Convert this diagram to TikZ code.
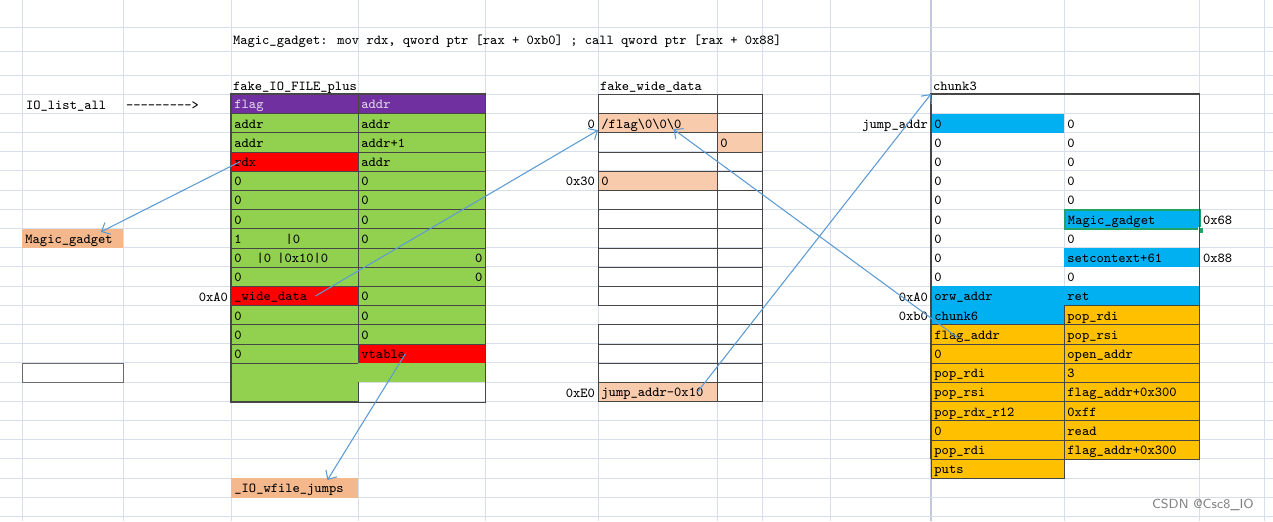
\documentclass[tikz,border=0pt]{standalone}
\usepackage{xcolor}
\usepackage{tikz}
\usetikzlibrary{positioning,arrows.meta}

\definecolor{gridc}{RGB}{216,222,236}
\definecolor{gridd}{RGB}{190,200,222}
\definecolor{bd}{RGB}{70,70,70}
\definecolor{purp}{RGB}{112,48,160}
\definecolor{pale}{RGB}{222,212,234}
\definecolor{grn}{RGB}{146,208,80}
\definecolor{redc}{RGB}{255,0,0}
\definecolor{pch}{RGB}{248,203,173}
\definecolor{org}{RGB}{244,184,140}
\definecolor{blu}{RGB}{0,176,240}
\definecolor{gold}{RGB}{255,192,0}
\definecolor{selg}{RGB}{33,163,102}
\definecolor{arw}{RGB}{91,155,213}

\begin{document}
\begin{tikzpicture}[
		x=0.02cm,y=-0.02cm,
		font=\fontsize{7.8}{9}\selectfont\ttfamily,
		cell/.style={draw=bd,line width=0.5pt,anchor=north west,minimum height=0.384cm,inner xsep=0.06cm,inner ysep=0pt,text height=6.4pt,text depth=0.8pt,align=left},
		ia/.style={cell,text width=2.42cm},
		wa/.style={cell,text width=2.26cm},
		wb/.style={cell,text width=0.78cm},
		ca/.style={cell,text width=2.54cm},
		cb/.style={cell,text width=2.58cm},
		la/.style={cell,text width=1.90cm},
		lbl/.style={inner sep=1pt,text height=6.4pt,text depth=0.8pt},
		tbl/.style={draw=bd,line width=0.6pt},
		ptr/.style={-{Straight Barb[length=1.4mm,width=2.6mm]},draw=arw,line width=0.6pt}
		]
		\fill[white] (0,0) rectangle (1273,521);
		\useasboundingbox (0,0) rectangle (1273,521);

		% sheet grid
		\foreach \gx in {22,123,231,358,485,598,717,762,830,1064,1199,1264}
			\draw[gridc,line width=0.5pt] (\gx,0) -- (\gx,521);
		\draw[gridd,line width=0.8pt] (931,0) -- (931,521);
		\foreach \gy in {27,51,75}
			\draw[gridc,line width=0.5pt] (0,\gy) -- (1273,\gy);
		\foreach \k in {0,...,22}
			\draw[gridc,line width=0.5pt] (0,{94+19.2*\k}) -- (1273,{94+19.2*\k});

		\node[lbl,anchor=west] (ttl) at (231,40) {Magic\_gadget: mov rdx, qword ptr [rax + 0xb0] ; call qword ptr [rax + 0x88]};
		\node[lbl,anchor=west] (iola) at (24,104.2) {IO\_list\_all};
		\node[lbl,anchor=west] (dsh) at (124,104.2) {-{}-{}-{}-{}-{}-{}-{}-{}->};
		\node[la,fill=org,draw=none] (mg) at (22,228.4) {Magic\_gadget};
		\node[la,draw=bd!80] (box) at (22,362.8) {};

		% fake_IO_FILE_plus
		\node[lbl,anchor=west] (h1) at (231,85.5) {fake\_IO\_FILE\_plus};
		\node[ia,fill=purp,text=pale] (fa1) at (231,94) {flag};
		\node[ia,fill=purp,text=pale] (fb1) at (358,94) {addr};
		\node[ia,fill=grn] (fa2) at (231,113.2) {addr};
		\node[ia,fill=grn] (fb2) at (358,113.2) {addr};
		\node[ia,fill=grn] (fa3) at (231,132.4) {addr};
		\node[ia,fill=grn] (fb3) at (358,132.4) {addr+1};
		\node[ia,fill=redc] (rdx) at (231,151.6) {rdx};
		\node[ia,fill=grn] (fb4) at (358,151.6) {addr};
		\foreach \r/\y in {5/170.8,6/190,7/209.2,12/305.2,13/324.4}{
			\node[ia,fill=grn] (fa\r) at (231,\y) {0};
			\node[ia,fill=grn] (fb\r) at (358,\y) {0};
		}
		\node[ia,fill=grn] (fa8) at (231,228.4) {1\hspace{0.88cm}|0};
		\node[ia,fill=grn] (fb8) at (358,228.4) {0};
		\node[ia,fill=grn] (fa9) at (231,247.6) {0\hspace{0.3cm}|0\hspace{0.12cm}|0x10|0};
		\node[ia,fill=grn,align=right] (fb9) at (358,247.6) {0};
		\node[ia,fill=grn] (fa10) at (231,266.8) {0};
		\node[ia,fill=grn,align=right] (fb10) at (358,266.8) {0};
		\node[ia,fill=redc] (wd) at (231,286) {\_wide\_data};
		\node[ia,fill=grn] (fb11) at (358,286) {0};
		\node[ia,fill=grn] (fa14) at (231,343.6) {0};
		\node[ia,fill=redc] (vt) at (358,343.6) {vtable};
		\node[ia,fill=grn,minimum height=0.768cm] (fa15) at (231,362.8) {};
		\node[ia,fill=grn,draw=none] (fb15) at (358,362.8) {};
		\draw[tbl] (fa1.north west) rectangle (fb15.east |- fa15.south);
		\node[lbl,anchor=east] (fxa0) at (230,296.2) {0xA0};
		\node[ia,fill=org,draw=none] (jumps) at (231,478) {\_IO\_wfile\_jumps};

		% fake_wide_data
		\node[lbl,anchor=west] (h2) at (598,85.5) {fake\_wide\_data};
		\foreach \r/\y in {1/94,4/151.6,6/190,7/209.2,8/228.4,9/247.6,10/266.8,11/286,13/324.4,14/343.6,15/362.8}{
			\node[wa] (wa\r) at (598,\y) {};
			\node[wb] (wb\r) at (717,\y) {};
		}
		\node[wa,fill=pch] (flag) at (598,113.2) {/flag\textbackslash0\textbackslash0\textbackslash0};
		\node[wb] (wb2) at (717,113.2) {};
		\node[wa] (wa3) at (598,132.4) {};
		\node[wb,fill=pch] (wb3) at (717,132.4) {0};
		\node[wa,fill=pch] (wa5) at (598,170.8) {0};
		\node[wb] (wb5) at (717,170.8) {};
		\node[wa,draw=none] (wa12) at (598,305.2) {};
		\node[wb] (wb12) at (717,305.2) {};
		\node[wa,fill=pch] (ja) at (598,382) {jump\_addr-0x10};
		\node[wb] (wb16) at (717,382) {};
		\node[lbl,anchor=east] (w0) at (597,123.4) {0};
		\node[lbl,anchor=east] (w30) at (597,181) {0x30};
		\node[lbl,anchor=east] (we0) at (597,392.2) {0xE0};

		% chunk3
		\node[lbl,anchor=west] (h3) at (931,85.5) {chunk3};
		\node[ca,draw=none] (c1a) at (931,94) {};
		\node[cb,draw=none] (c1b) at (1064,94) {};
		\node[ca,draw=none,fill=blu] (c2a) at (931,113.2) {0};
		\node[cb,draw=none] (c2b) at (1064,113.2) {0};
		\foreach \r/\y in {3/132.4,4/151.6,5/170.8,6/190,8/228.4,10/266.8}{
			\node[ca,draw=none] (c\r a) at (931,\y) {0};
			\node[cb,draw=none] (c\r b) at (1064,\y) {0};
		}
		\node[ca,draw=none] (c7a) at (931,209.2) {0};
		\node[cb,draw=selg,line width=1.1pt,fill=blu] (mgc) at (1064,209.2) {Magic\_gadget};
		\fill[selg,draw=white,line width=0.3pt] ([shift={(-1.6pt,-1.6pt)}]mgc.south east) rectangle ++(3.2pt,3.2pt);
		\node[ca,draw=none] (c9a) at (931,247.6) {0};
		\node[cb,draw=none,fill=blu] (sc) at (1064,247.6) {setcontext+61};
		\node[ca,draw=none,fill=blu] (orw) at (931,286) {orw\_addr};
		\node[cb,draw=none,fill=blu] (ret) at (1064,286) {ret};
		\node[ca,draw=none,fill=blu] (ch6) at (931,305.2) {chunk6};
		\node[cb,fill=gold] (gb12) at (1064,305.2) {pop\_rdi};
		\foreach \r/\y/\p/\q in {13/324.4/flag\_addr/pop\_rsi,14/343.6/0/open\_addr,15/362.8/pop\_rdi/3,16/382/pop\_rsi/flag\_addr+0x300,17/401.2/pop\_rdx\_r12/0xff,18/420.4/0/read,19/439.6/pop\_rdi/flag\_addr+0x300}{
			\node[ca,fill=gold] (ga\r) at (931,\y) {\p};
			\node[cb,fill=gold] (gb\r) at (1064,\y) {\q};
		}
		\node[ca,fill=gold] (puts) at (931,458.8) {puts};
		\draw[tbl] (puts.north west) -- (c1a.north west) -- (c1b.north east) -- (gb19.south east);
		\node[lbl,anchor=east] (jaddr) at (930,123.4) {jump\_addr};
		\node[lbl,anchor=east] (ca0) at (930,296.2) {0xA0};
		\node[lbl,anchor=east] (cb0) at (930,315.4) {0xb0};
		\node[lbl,anchor=west] (c68) at (1201,219.4) {0x68};
		\node[lbl,anchor=west] (c88) at (1201,257.8) {0x88};

		\node[anchor=east,font=\sffamily\fontsize{7.5}{9}\selectfont,text=gray] (wm) at (1260,505) {CSDN @Csc8\_IO};

		\draw[ptr] ([xshift=0.18cm]rdx.west) -- ([xshift=-0.46cm,yshift=-0.07cm]mg.north east);
		\draw[ptr] ([xshift=0.41cm]wd.center) -- ([yshift=-0.14cm]flag.west);
		\draw[ptr] ([xshift=-0.33cm]vt.center) -- ([xshift=0.65cm,yshift=-0.04cm]jumps.north);
		\draw[ptr] ([xshift=0.79cm]ja.center) -- (c1a.north west);
		\draw[ptr] ([xshift=0.54cm,yshift=-0.27cm]ga13.north west) -- ([xshift=0.31cm,yshift=-0.12cm]flag.center);
	\end{tikzpicture}
\end{document}
